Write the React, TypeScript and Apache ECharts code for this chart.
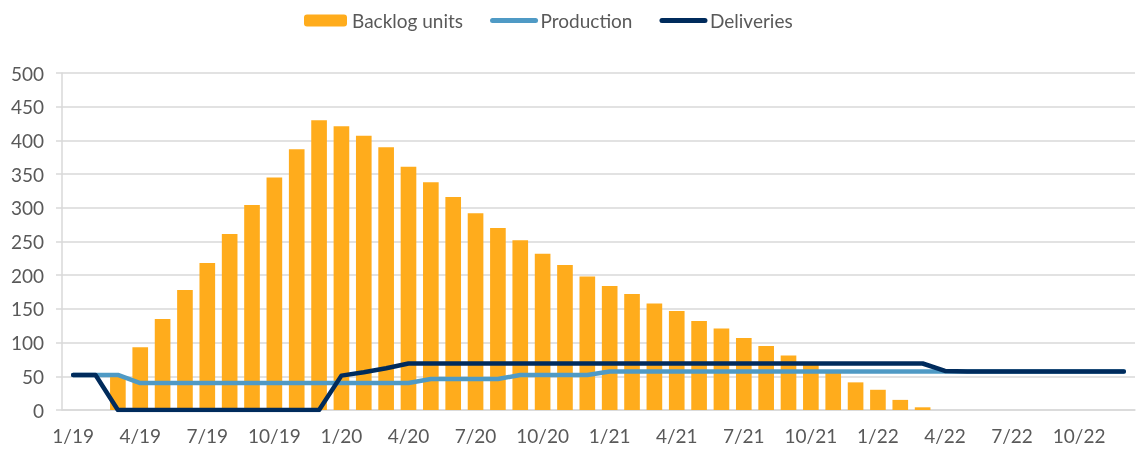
import React, { useEffect, useRef } from "react";
import * as echarts from "echarts";

const years = ["19", "20", "21", "22"];
const categories: string[] = [];
years.forEach((y) => {
  for (let m = 1; m <= 12; m++) categories.push(`${m}/${y}`);
});

const backlog: (number | null)[] = [
  null, null, 50, 93, 135, 178, 218, 261, 304, 345, 387, 430,
  421, 407, 390, 361, 338, 316, 292, 270, 252, 232, 215, 198,
  184, 172, 158, 147, 132, 121, 107, 95, 81, 68, 56, 41,
  30, 15, 4, null, null, null, null, null, null, null, null, null,
];

const production: number[] = [
  52, 52, 52, 40, 40, 40, 40, 40, 40, 40, 40, 40,
  40, 40, 40, 40, 46, 46, 46, 46, 52, 52, 52, 52,
  57, 57, 57, 57, 57, 57, 57, 57, 57, 57, 57, 57,
  57, 57, 57, 57, 57, 57, 57, 57, 57, 57, 57, 57,
];

const deliveries: number[] = [
  52, 52, 0, 0, 0, 0, 0, 0, 0, 0, 0, 0,
  51, 56, 62, 69, 69, 69, 69, 69, 69, 69, 69, 69,
  69, 69, 69, 69, 69, 69, 69, 69, 69, 69, 69, 69,
  69, 69, 69, 58, 57, 57, 57, 57, 57, 57, 57, 57,
];

const FONT = "Lato";
const TEXT = "#595959";
const GRID = "#D9D9D9";
const ORANGE = "#FFAC1C";
const LIGHT = "#4F9AC5";
const NAVY = "#002B5C";

export default function App() {
  const ref = useRef<HTMLDivElement>(null);
  useEffect(() => {
    if (!ref.current) return;
    const chart = echarts.init(ref.current, undefined, { renderer: "svg" });
    chart.setOption({
      animation: false,
      textStyle: { fontFamily: FONT, color: TEXT },
      legend: {
        top: 6,
        left: 299,
        itemWidth: 43,
        itemHeight: 12,
        itemGap: 27,
        textStyle: { fontFamily: FONT, color: TEXT, fontSize: 19 },
        lineStyle: { width: 5, cap: "round" },
        data: [
          { name: "Backlog units" },
          { name: "Production", itemStyle: { color: "rgba(0,0,0,0)", borderWidth: 0 } },
          { name: "Deliveries", itemStyle: { color: "rgba(0,0,0,0)", borderWidth: 0 } },
        ],
      },
      grid: { left: 62, right: 1, top: 73, bottom: 46 },
      xAxis: {
        type: "category",
        data: categories,
        boundaryGap: true,
        axisLine: { show: true, lineStyle: { color: GRID, width: 1.5 } },
        axisTick: { show: false },
        axisLabel: {
          interval: 2,
          color: TEXT,
          fontFamily: FONT,
          fontSize: 19,
          margin: 16,
        },
      },
      yAxis: {
        type: "value",
        min: 0,
        max: 500,
        interval: 50,
        axisLine: { show: true, lineStyle: { color: GRID, width: 1.5 } },
        axisTick: { show: true, length: 6, lineStyle: { color: GRID, width: 1.5 } },
        splitLine: { show: true, lineStyle: { color: GRID, width: 1.5 } },
        axisLabel: { color: TEXT, fontFamily: FONT, fontSize: 19, margin: 18 },
      },
      series: [
        {
          name: "Backlog units",
          type: "bar",
          data: backlog,
          barCategoryGap: "30%",
          itemStyle: { color: ORANGE },
          z: 1,
        },
        {
          name: "Production",
          type: "line",
          data: production,
          symbol: "none",
          lineStyle: { color: LIGHT, width: 4.5, cap: "round", join: "round" },
          itemStyle: { color: LIGHT },
          z: 3,
        },
        {
          name: "Deliveries",
          type: "line",
          data: deliveries,
          symbol: "none",
          lineStyle: { color: NAVY, width: 4.5, cap: "round", join: "round" },
          itemStyle: { color: NAVY },
          z: 4,
        },
      ],
    });
    return () => chart.dispose();
  }, []);
  return (
    <div
      ref={ref}
      style={{ position: "fixed", left: 0, top: 0, width: 1136, height: 456 }}
    />
  );
}
